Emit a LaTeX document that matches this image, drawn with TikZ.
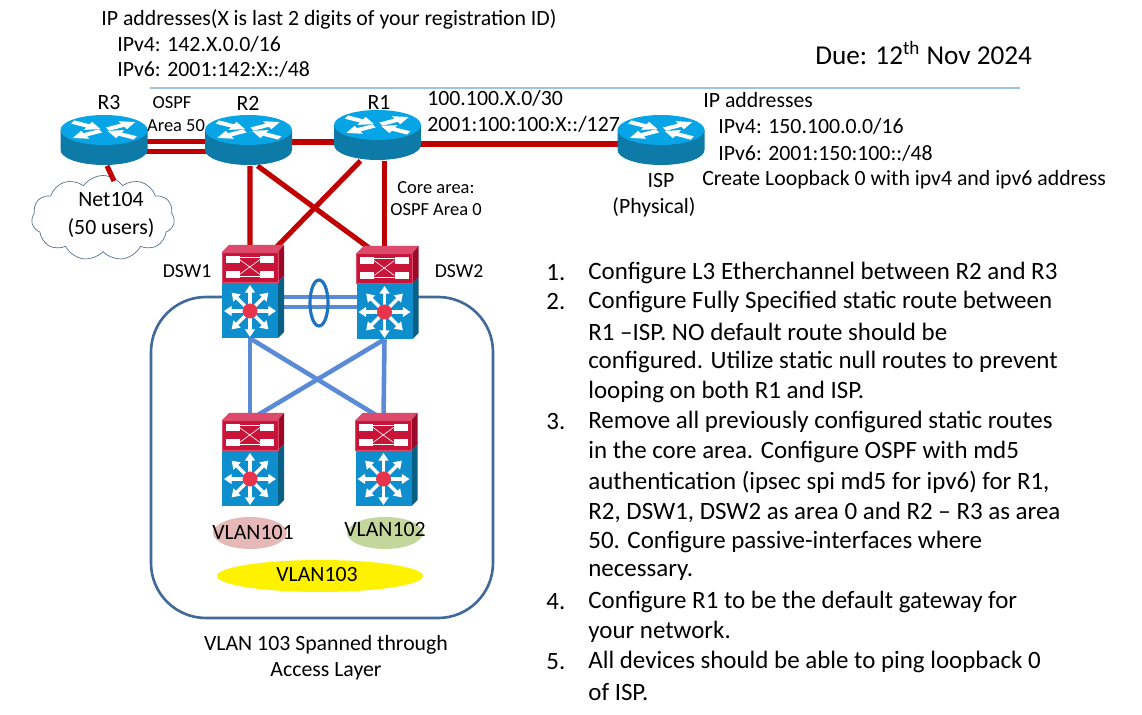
\documentclass[tikz,border=0pt]{standalone}
\usepackage{fontspec}
\setmainfont{Carlito}
\usetikzlibrary{arrows.meta,calc,shapes.geometric,shapes.symbols}

\definecolor{linkred}{HTML}{C00000}
\definecolor{linkblue}{HTML}{5B8BD6}
\definecolor{framblue}{HTML}{41699A}
\definecolor{ruleblue}{HTML}{9DC3E0}
\definecolor{rtop}{HTML}{08A5E6}
\definecolor{rbody}{HTML}{0D7AA8}
\definecolor{swblue}{HTML}{0E8ECC}
\definecolor{swbluedk}{HTML}{0A5F85}
\definecolor{swred}{HTML}{C9143A}
\definecolor{swreddk}{HTML}{9A0A28}
\definecolor{swpink}{HTML}{DD4A6C}
\definecolor{ringblue}{HTML}{1F72C0}

\tikzset{
  txt/.style={inner sep=0pt,font=\fontsize{12.4}{14}\selectfont},
  txtl/.style={txt,anchor=west},
  listl/.style={inner sep=0pt,anchor=west,font=\fontsize{14.2}{16}\selectfont},
  small/.style={inner sep=0pt,font=\fontsize{10.5}{12}\selectfont},
  rslot/.style={inner sep=0pt,minimum width=1.74cm,minimum height=1.02cm},
  swslot/.style={inner sep=0pt,minimum width=1.12cm,minimum height=1.72cm},
  redlink/.style={linkred,line width=2.9pt},
  bluelink/.style={linkblue,line width=2.6pt},
  vlan/.style={ellipse,inner sep=0pt},
  router/.pic={
    \fill[rbody] (-43.5,-10) -- (-43.5,10) .. controls (-43.5,18.3) and (-24,25) .. (0,25)
      .. controls (24,25) and (43.5,18.3) .. (43.5,10) -- (43.5,-10) -- cycle;
    \fill[rtop] (0,-10) ellipse [x radius=43.5,y radius=15];
    \begin{scope}[shift={(0,-10)},yscale=.5]
      \foreach \a in {27,207}{% arrows going out
        \fill[white,rotate=\a] (4,-3.6) -- (21,-3.6) -- (21,-9) -- (35,0) -- (21,9) -- (21,3.6) -- (4,3.6) -- cycle;}
      \foreach \a in {153,333}{% arrows coming in
        \fill[white,rotate=\a] (35,-3.6) -- (18,-3.6) -- (18,-9) -- (4,0) -- (18,9) -- (18,3.6) -- (35,3.6) -- cycle;}
    \end{scope}
  },
  switch/.pic={
    \fill[swpink] (-28,-43) -- (-21,-50) -- (34,-50) -- (28,-43) -- cycle;
    \fill[swreddk] (28,-43) -- (34,-50) -- (34,-19) -- (28,-13) -- cycle;
    \fill[swbluedk] (28,-13) -- (34,-19) -- (34,37) -- (28,43) -- cycle;
    \fill[swred] (-28,-43) rectangle (28,-13);
    \fill[swblue] (-28,-13) rectangle (28,43);
    \draw[swpink,line width=.5pt] (-28,-43) rectangle (28,-13);
    \foreach \x in {-24.5,10}{
      \foreach \y in {-39,-24}{
        \fill[white] (\x,\y) rectangle +(14,7);}}
    \draw[white,line width=.35pt] (-10.5,-35.5) -- (10,-20.5) (-10.5,-20.5) -- (10,-35.5)
      (-10.5,-37.5) -- (10,-37.5) (-10.5,-18.5) -- (10,-18.5);
    \foreach \a in {0,45,...,315}{
      \draw[white,line width=1.9pt,-{Triangle[length=4.4pt,width=5.6pt]}] (0,16) -- ++(\a:26);}
    \fill[swpink!70!red] (0,16) circle (7.5);
  }
}

\begin{document}
\begin{tikzpicture}[x=0.02cm,y=-0.02cm]
  \useasboundingbox (0,0) rectangle (1142,715);

  % frame of the access layer
  \draw[framblue,line width=1.5pt,rounded corners=1.1cm] (151,297) rectangle (493,618);
  \draw[ruleblue,line width=.7pt] (150,88) -- (1020,88);

  \node[rslot] (R3) at (104,140) {};
  \node[rslot] (R2) at (248.5,140) {};
  \node[rslot] (R1) at (377.5,135) {};
  \node[rslot] (ISP) at (661,140) {};
  \node[swslot] (DSW1) at (250,295) {};
  \node[swslot] (DSW2) at (384.5,296) {};
  \node[swslot] (ASW1) at (250,463) {};
  \node[swslot] (ASW2) at (383.5,463) {};

  \node[cloud,cloud puffs=11,cloud puff arc=110,aspect=1.7,draw=framblue!60!gray,line width=.4pt,fill=white,
    inner sep=0pt,minimum width=2.86cm,minimum height=1.7cm] (Net) at (103,218) {};
  \coordinate (netend) at (114,181);

  % red links
  \draw[redlink] ($(R3.center)+(0,1.5)$) -- ($(R2.center)+(0,1.5)$);
  \draw[redlink] ($(R3.center)+(0,11.5)$) -- ($(R2.center)+(0,11.5)$);
  \draw[redlink] ($(R2.center)+(0,2)$) -- ($(R1.center)+(0,7)$);
  \draw[redlink] ($(R1.center)+(0,9)$) -- ($(ISP.center)+(0,4)$);
  \draw[redlink] ($(R3.south)+(3,0)$) -- (netend);
  \draw[redlink] ($(R2.south)+(1.5,0)$) -- (DSW1.north);
  \draw[redlink] ($(R2.south)+(9,0)$) -- ($(DSW2.north)+(-9,0)$);
  \draw[redlink] ($(R1.south)+(-17,0)$) -- ($(DSW1.north)+(22,0)$);
  \draw[redlink] ($(R1.south)+(7,0)$) -- (DSW2.north);

  % blue links
  \draw[bluelink] ($(DSW1.center)+(0,2)$) -- ($(DSW2.center)+(0,1)$);
  \draw[bluelink] ($(DSW1.center)+(0,12)$) -- ($(DSW2.center)+(0,11)$);
  \draw[bluelink] (DSW1.south) -- (ASW1.north);
  \draw[bluelink] (DSW2.south) -- (ASW2.north);
  \draw[bluelink] (DSW1.south) -- (ASW2.north);
  \draw[bluelink] (DSW2.south) -- (ASW1.north);

  \draw[ringblue,line width=1.8pt] (319,303) ellipse [x radius=9,y radius=23];

  \foreach \n in {R3,R2,R1,ISP}{
    \pic at (\n) {router};}
  \foreach \n in {DSW1,DSW2,ASW1,ASW2}{
    \pic at (\n) {switch};}

  \node[vlan,fill={rgb,255:red,230;green,184;blue,183},minimum width=1.48cm,minimum height=.64cm] (V1) at (250,533) {};
  \node[vlan,fill={rgb,255:red,195;green,214;blue,155},minimum width=1.52cm,minimum height=.64cm] (V2) at (385,533) {};
  \node[vlan,fill=yellow,minimum width=4.12cm,minimum height=.64cm] (V3) at (320,576) {};
  \node[txt] (V1t) at (253,533) {VLAN101};
  \node[txt] (V2t) at (385,530) {VLAN102};
  \node[txt] (V3t) at (317,575) {VLAN103};

  \node[txt] (R3t) at (109,103) {R3};
  \node[txt] (R2t) at (248,103) {R2};
  \node[txt] (R1t) at (379,102) {R1};
  \node[small] (ospf) at (172,103) {OSPF};
  \node[small] (area) at (176,126) {Area 50};
  \node[txt,align=center] (Nett) at (111,215) {Net104\\[2pt](50 users)};
  \node[txt] (ISPt) at (661,181) {ISP};
  \node[txt] (phys) at (654,207) {(Physical)};
  \node[txt,font=\fontsize{11.2}{13}\selectfont] (D1t) at (187,271) {DSW1};
  \node[txt,font=\fontsize{11.2}{13}\selectfont] (D2t) at (459,271) {DSW2};
  \node[small,anchor=west] (core) at (397,188) {Core area:};
  \node[small,anchor=west] (core0) at (390,210) {OSPF Area 0};
  \node[txt] (span1) at (326,645) {VLAN 103 Spanned through};
  \node[txt] (span2) at (326,671) {Access Layer};

  \node[txtl] (ip0) at (101,19) {IP addresses(X is last 2 digits of your registration ID)};
  \node[txtl] (ip4) at (117,44) {IPv4: 142.X.0.0/16};
  \node[txtl] (ip6) at (117,69) {IPv6: 2001:142:X::/48};
  \node[txtl,font=\fontsize{15.5}{18}\selectfont] (due) at (815,53) {Due: 12\textsuperscript{th} Nov 2024};
  \node[txtl] (p30) at (427,98) {100.100.X.0/30};
  \node[txtl] (p127) at (427,124) {2001:100:100:X::/127};
  \node[txtl] (isp0) at (703,100) {IP addresses};
  \node[txtl] (isp4) at (718,126) {IPv4: 150.100.0.0/16};
  \node[txtl] (isp6) at (718,153) {IPv6: 2001:150:100::/48};
  \node[txtl] (loop) at (702,180) {Create Loopback 0 with ipv4 and ipv6 address};

  % task list
  \foreach \n/\yy in {1/273,2/302,3/422,4/602,5/662}{
    \node[listl] (num\n) at (546,\yy) {\n.};}
  \foreach \n/\yy/\line in {
    a/273/{Configure L3 Etherchannel between R2 and R3},
    b/302/{Configure Fully Specified static route between},
    c/332/{R1 –ISP. NO default route should be},
    d/362/{configured. Utilize static null routes to prevent},
    e/392/{looping on both R1 and ISP.},
    f/422/{Remove all previously configured static routes},
    g/452/{in the core area. Configure OSPF with md5},
    h/482/{authentication (ipsec spi md5 for ipv6) for R1,},
    i/512/{R2, DSW1, DSW2 as area 0 and R2 – R3 as area},
    j/542/{50. Configure passive-interfaces where},
    k/572/{necessary.},
    l/602/{Configure R1 to be the default gateway for},
    m/632/{your network.},
    n/662/{All devices should be able to ping loopback 0},
    o/692/{of ISP.}}{
    \node[listl] (item\n) at (588,\yy) {\line};}
\end{tikzpicture}
\end{document}
